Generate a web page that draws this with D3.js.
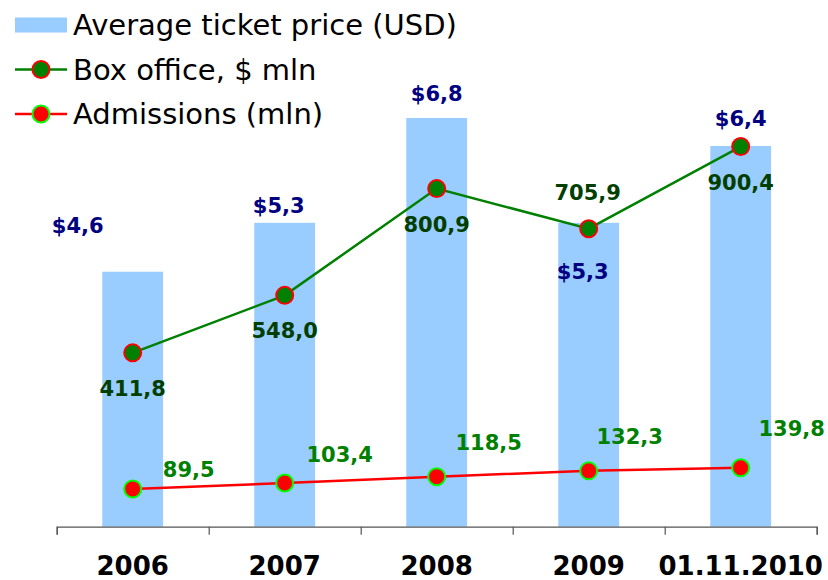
<!DOCTYPE html>
<html>
<head>
<meta charset="utf-8">
<script src="https://cdn.jsdelivr.net/npm/d3@7/dist/d3.min.js"></script>
<style>
  html, body { margin: 0; padding: 0; background: #fff; }
  svg { display: block; font-family: "DejaVu Sans", Verdana, sans-serif; }
</style>
</head>
<body>
<div id="chart"></div>
<script>
// ── Data ────────────────────────────────────────────────────────────────────
const categories = ['2006', '2007', '2008', '2009', '01.11.2010'];
const ticketPrice = [4.6, 5.3, 6.8, 5.3, 6.4];
const boxOffice = [411.8, 548.0, 800.9, 705.9, 900.4];
const admissions = [89.5, 103.4, 118.5, 132.3, 139.8];

const legendLabels = ['Average ticket price (USD)', 'Box office, $ mln', 'Admissions (mln)'];

// label placement (px, relative to the mark) – hand placed like in the source
const priceLabelOffset = [[-55, -39], [-6, -10], [0, -17], [-6, 56], [0, -20]];
const boxLabelOffset = [[0, 43], [0, 43], [0, 43], [-1, -29], [0, 43]];
const admLabelOffset = [[56, -12], [55, -21], [52, -27], [41, -27], [51, -32]];

const fmt = v => d3.format('.1f')(v).replace('.', ',');

// ── Layout ──────────────────────────────────────────────────────────────────
const W = 828, H = 580;
const PLOT = { left: 56.7, right: 816.7, top: 37, bottom: 526.7 };

const BAR_COLOR = '#99ccff';
const BOX_COLOR = '#008000';
const ADM_COLOR = '#ff0000';

const svg = d3.select('#chart').append('svg')
    .attr('width', W)
    .attr('height', H)
    .attr('viewBox', `0 0 ${W} ${H}`);

const x = d3.scaleBand()
    .domain(categories)
    .range([PLOT.left, PLOT.right])
    .paddingInner(0.6)
    .paddingOuter(0.3);
const cx = c => x(c) + x.bandwidth() / 2;

const yPrice = d3.scaleLinear().domain([0.95, 7.96]).range([PLOT.bottom, PLOT.top]);
const ySec = d3.scaleLinear().domain([0, 1160]).range([PLOT.bottom, PLOT.top]);

// ── Bars ────────────────────────────────────────────────────────────────────
const priceData = categories.map((c, i) => ({ c, v: ticketPrice[i], i }));
svg.append('g').selectAll('rect')
    .data(priceData)
    .join('rect')
    .attr('x', d => x(d.c))
    .attr('y', d => yPrice(d.v))
    .attr('width', x.bandwidth())
    .attr('height', d => PLOT.bottom - yPrice(d.v))
    .attr('fill', BAR_COLOR);

// ── Axis ────────────────────────────────────────────────────────────────────
const xEdge = d3.scaleLinear().domain([0, categories.length]).range([PLOT.left, PLOT.right]);
svg.append('g')
    .attr('transform', `translate(0,${PLOT.bottom})`)
    .call(d3.axisBottom(xEdge).tickValues(d3.range(categories.length + 1)).tickSize(8).tickFormat(''))
    .call(g => {
        g.select('.domain').attr('stroke', '#555').attr('stroke-width', 1.2);
        g.selectAll('.tick line').attr('stroke', '#555').attr('stroke-width', 1.2);
    });

svg.append('g')
    .attr('transform', `translate(0,${PLOT.bottom})`)
    .call(d3.axisBottom(x).tickSize(0).tickPadding(0))
    .call(g => {
        g.select('.domain').remove();
        g.selectAll('.tick text')
            .attr('y', 48.5)
            .attr('dy', null)
            .attr('fill', '#000')
            .attr('font-size', 26)
            .attr('font-weight', 'bold')
            .attr('font-family', '"DejaVu Sans", Verdana, sans-serif');
    });

// ── Lines ───────────────────────────────────────────────────────────────────
function drawSeries(values, lineColor, lineW, fill, stroke) {
    const pts = categories.map((c, i) => ({ c, v: values[i], i }));
    svg.append('path')
        .datum(pts)
        .attr('fill', 'none')
        .attr('stroke', lineColor)
        .attr('stroke-width', lineW)
        .attr('d', d3.line().x(d => cx(d.c)).y(d => ySec(d.v)));
    svg.append('g').selectAll('circle')
        .data(pts)
        .join('circle')
        .attr('cx', d => cx(d.c))
        .attr('cy', d => ySec(d.v))
        .attr('r', 8.5)
        .attr('fill', fill)
        .attr('stroke', stroke)
        .attr('stroke-width', 2);
    return pts;
}

const boxPts = drawSeries(boxOffice, BOX_COLOR, 2.5, BOX_COLOR, ADM_COLOR);
const admPts = drawSeries(admissions, ADM_COLOR, 2.5, ADM_COLOR, '#00ff00');

// ── Data labels ─────────────────────────────────────────────────────────────
function labels(data, yFn, offsets, color, text) {
    svg.append('g').selectAll('text')
        .data(data)
        .join('text')
        .attr('x', d => cx(d.c) + offsets[d.i][0])
        .attr('y', d => yFn(d.v) + offsets[d.i][1])
        .attr('text-anchor', 'middle')
        .attr('font-size', 21)
        .attr('font-weight', 'bold')
        .attr('fill', color)
        .text(text);
}

labels(priceData, yPrice, priceLabelOffset, '#000080', d => '$' + fmt(d.v));
labels(boxPts, ySec, boxLabelOffset, '#003f00', d => fmt(d.v));
labels(admPts, ySec, admLabelOffset, '#008000', d => fmt(d.v));

// ── Legend ──────────────────────────────────────────────────────────────────
const legend = svg.append('g').attr('transform', 'translate(15,0)');
const rowY = [25, 69.5, 114];

legend.append('rect')
    .attr('x', 0).attr('y', rowY[0] - 7.5)
    .attr('width', 52).attr('height', 15)
    .attr('fill', BAR_COLOR);

[[BOX_COLOR, BOX_COLOR, ADM_COLOR], [ADM_COLOR, ADM_COLOR, '#00ff00']].forEach((s, k) => {
    const y = rowY[k + 1];
    legend.append('line')
        .attr('x1', 0).attr('x2', 52).attr('y1', y).attr('y2', y)
        .attr('stroke', s[0]).attr('stroke-width', 2.5);
    legend.append('circle')
        .attr('cx', 26).attr('cy', y).attr('r', 8.5)
        .attr('fill', s[1]).attr('stroke', s[2]).attr('stroke-width', 2);
});

legend.selectAll('text.leg')
    .data(legendLabels)
    .join('text')
    .attr('class', 'leg')
    .attr('x', 58)
    .attr('y', (d, i) => rowY[i] + 10)
    .attr('font-size', 29)
    .attr('fill', '#000')
    .text(d => d);
</script>
</body>
</html>
